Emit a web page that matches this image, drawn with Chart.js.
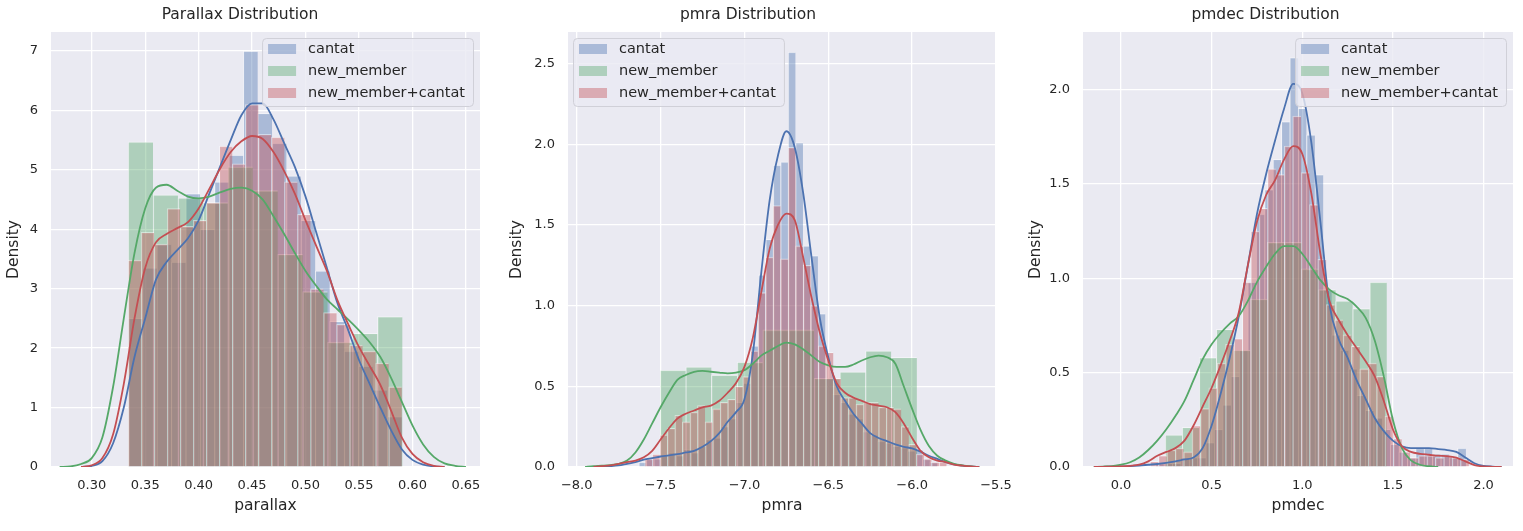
<!DOCTYPE html>
<html>
<head>
<meta charset="utf-8">
<title>Parallax / pmra / pmdec distributions</title>
<script src="https://cdn.jsdelivr.net/npm/chart.js"></script>
<style>
  body { margin: 0; background: #ffffff; }
  #wrap { position: relative; width: 1523px; height: 531px; }
  #wrap canvas { position: absolute; top: 0; }
</style>
</head>
<body>
<div id="wrap">
  <canvas id="c1" width="492" height="531" style="left:0px"></canvas>
  <canvas id="c2" width="512" height="531" style="left:500px"></canvas>
  <canvas id="c3" width="505" height="531" style="left:1018px"></canvas>
</div>
<script>
// ---- data ----
const seriesLabels = ['cantat', 'new_member', 'new_member+cantat'];

// parallax
const parallaxXTicks = [0.30, 0.35, 0.40, 0.45, 0.50, 0.55, 0.60, 0.65];
const parallaxXLabels = ['0.30', '0.35', '0.40', '0.45', '0.50', '0.55', '0.60', '0.65'];
const parallaxYTicks = [0, 1, 2, 3, 4, 5, 6, 7];
const parallaxYLabels = ['0', '1', '2', '3', '4', '5', '6', '7'];
const parallaxCantat = [2.5, 3.35, 3.75, 3.45, 4.6, 4.0, 4.8, 5.25, 7.0, 5.95, 5.45, 4.9, 4.15, 3.3, 2.45, 1.95, 1.7, 1.3, 0.85];
const parallaxNew = [5.47, 4.58, 4.53, 4.45, 5.05, 4.65, 3.58, 2.95, 2.1, 2.25, 2.53];
const parallaxBoth = [3.48, 3.95, 3.75, 4.35, 4.05, 4.15, 4.45, 5.4, 5.1, 6.1, 5.6, 5.55, 4.8, 4.25, 3.0, 2.6, 2.4, 2.05, 1.95, 1.75, 1.35];
const parallaxKdeX = [0.27, 0.28, 0.29, 0.30, 0.31, 0.32, 0.33, 0.34, 0.35, 0.36, 0.37, 0.38, 0.39, 0.40, 0.41, 0.42, 0.43, 0.44, 0.45, 0.46,
  0.47, 0.48, 0.49, 0.50, 0.51, 0.52, 0.53, 0.54, 0.55, 0.56, 0.57, 0.58, 0.59, 0.60, 0.61, 0.62, 0.63, 0.64, 0.65];
const parallaxKdeCantat = [null, null, 0, 0.02, 0.1, 0.4, 1.0, 1.85, 2.5, 3.15, 3.45, 3.65, 3.85, 4.15, 4.6, 5.05, 5.5, 5.92, 6.12, 6.12,
  5.85, 5.45, 5.05, 4.55, 3.95, 3.35, 2.75, 2.3, 1.8, 1.4, 1.0, 0.62, 0.3, 0.12, 0.04, 0.01, 0, null, null];
const parallaxKdeNew = [0, 0.01, 0.05, 0.15, 0.5, 1.35, 2.5, 3.6, 4.35, 4.7, 4.75, 4.65, 4.55, 4.52, 4.55, 4.62, 4.68, 4.7, 4.65, 4.5,
  4.22, 3.92, 3.6, 3.3, 3.05, 2.82, 2.65, 2.48, 2.3, 2.1, 1.85, 1.5, 1.1, 0.7, 0.38, 0.17, 0.06, 0.02, 0];
const parallaxKdeBoth = [null, null, 0, 0.03, 0.15, 0.55, 1.4, 2.5, 3.35, 3.78, 3.92, 4.02, 4.12, 4.35, 4.68, 5.02, 5.3, 5.48, 5.57, 5.52,
  5.3, 4.98, 4.6, 4.15, 3.72, 3.3, 2.8, 2.4, 2.02, 1.7, 1.38, 0.95, 0.5, 0.22, 0.08, 0.02, 0, null, null];

// pmra
const pmraXTicks = [-8.0, -7.5, -7.0, -6.5, -6.0, -5.5];
const pmraXLabels = ['\u22128.0', '\u22127.5', '\u22127.0', '\u22126.5', '\u22126.0', '\u22125.5'];
const pmraYTicks = [0, 0.5, 1.0, 1.5, 2.0, 2.5];
const pmraYLabels = ['0.0', '0.5', '1.0', '1.5', '2.0', '2.5'];
const pmraCantat = [0.03, 0.05, 0.05, 0.07, 0.09, 0.07, 0.11, 0.09, 0.13, 0.17, 0.18, 0.25, 0.30, 0.40, 0.52, 0.75, 1.19, 1.41, 1.87, 1.89,
  2.57, 2.01, 1.37, 1.31, 0.95, 0.55, 0.45, 0.40, 0.33, 0.30, 0.22, 0.20, 0.16, 0.15, 0.13, 0.12, 0.10, 0.11, 0.05, 0.03];
const pmraNew = [0.60, 0.62, 0.57, 0.65, 0.85, 0.85, 0.55, 0.59, 0.72, 0.68];
const pmraBoth = [0.05, 0.08, 0.20, 0.24, 0.32, 0.28, 0.34, 0.38, 0.28, 0.36, 0.40, 0.42, 0.50, 0.56, 0.72, 1.08, 1.30, 1.62, 1.29, 1.98,
  1.37, 1.25, 1.00, 0.75, 0.71, 0.55, 0.43, 0.43, 0.39, 0.40, 0.40, 0.37, 0.37, 0.36, 0.25, 0.14, 0.08, 0.05, 0.03, 0.03];
const pmraKdeX = [-7.95, -7.90, -7.85, -7.80, -7.75, -7.70, -7.65, -7.60, -7.55, -7.50, -7.45, -7.40, -7.35, -7.30, -7.25, -7.20,
  -7.15, -7.10, -7.05, -7.00, -6.95, -6.90, -6.85, -6.80, -6.75, -6.70, -6.65, -6.60, -6.55, -6.50, -6.45, -6.40,
  -6.35, -6.30, -6.25, -6.20, -6.15, -6.10, -6.05, -6.00, -5.95, -5.90, -5.85, -5.80, -5.75, -5.70, -5.65, -5.60];
const pmraKdeCantat = [null, 0, 0.002, 0.005, 0.01, 0.02, 0.03, 0.045, 0.055, 0.065, 0.072, 0.08, 0.09, 0.1, 0.125, 0.16,
  0.21, 0.28, 0.34, 0.42, 0.7, 1.2, 1.65, 1.93, 2.08, 1.98, 1.7, 1.3, 0.92, 0.68, 0.5, 0.41,
  0.33, 0.27, 0.21, 0.18, 0.16, 0.14, 0.125, 0.115, 0.095, 0.07, 0.05, 0.03, 0.017, 0.008, 0.003, 0];
const pmraKdeNew = [0, 0.005, 0.008, 0.012, 0.02, 0.04, 0.09, 0.17, 0.27, 0.37, 0.46, 0.54, 0.57, 0.59, 0.595, 0.59,
  0.585, 0.58, 0.585, 0.6, 0.64, 0.69, 0.72, 0.75, 0.77, 0.76, 0.73, 0.69, 0.65, 0.63, 0.62, 0.62,
  0.635, 0.66, 0.68, 0.69, 0.68, 0.64, 0.5, 0.36, 0.23, 0.13, 0.07, 0.04, 0.02, 0.01, 0.004, 0];
const pmraKdeBoth = [null, 0, 0.005, 0.01, 0.02, 0.03, 0.04, 0.06, 0.1, 0.17, 0.24, 0.3, 0.33, 0.35, 0.37, 0.38,
  0.41, 0.46, 0.52, 0.62, 0.8, 1.08, 1.35, 1.5, 1.57, 1.53, 1.3, 1.05, 0.83, 0.66, 0.52, 0.46,
  0.43, 0.41, 0.39, 0.38, 0.37, 0.34, 0.27, 0.18, 0.1, 0.06, 0.04, 0.03, 0.015, 0.008, 0.003, 0];

// pmdec
const pmdecXTicks = [0.0, 0.5, 1.0, 1.5, 2.0];
const pmdecXLabels = ['0.0', '0.5', '1.0', '1.5', '2.0'];
const pmdecYTicks = [0, 0.5, 1.0, 1.5, 2.0];
const pmdecYLabels = ['0.0', '0.5', '1.0', '1.5', '2.0'];
const pmdecCantat = [0.02, 0.02, 0.02, 0.05, 0.05, 0.05, 0.13, 0.2, 0.33, 0.48, 0.62, 0.98, 1.34, 1.47, 1.63, 1.83, 2.17, 1.9, 1.76, 1.55,
  0.94, 0.7, 0.62, 0.52, 0.38, 0.3, 0.26, 0.2, 0.12, 0.08, 0.05, 0.1, 0.1, 0.07, 0.07, 0.05, 0.1];
const pmdecNew = [0.17, 0.21, 0.58, 0.73, 0.62, 0.89, 1.19, 1.19, 1.05, 0.94, 0.88, 0.84, 0.98];
const pmdecBoth = [0.03, 0.06, 0.09, 0.1, 0.08, 0.22, 0.31, 0.42, 0.55, 0.65, 0.68, 0.98, 1.25, 1.37, 1.58, 1.55, 1.7, 1.86, 1.56, 1.39,
  1.1, 0.86, 0.78, 0.7, 0.64, 0.52, 0.55, 0.48, 0.27, 0.15, 0.08, 0.05, 0.06, 0.06, 0.05, 0.06, 0.05, 0.04];
const pmdecKdeX = [-0.15, -0.10, -0.05, 0.00, 0.05, 0.10, 0.15, 0.20, 0.25, 0.30, 0.35, 0.40, 0.45, 0.50, 0.55, 0.60,
  0.65, 0.70, 0.75, 0.80, 0.85, 0.90, 0.95, 1.00, 1.05, 1.10, 1.15, 1.20, 1.25, 1.30, 1.35, 1.40,
  1.45, 1.50, 1.55, 1.60, 1.65, 1.70, 1.75, 1.80, 1.85, 1.90, 1.95, 2.00, 2.05, 2.10];
const pmdecKdeCantat = [0, 0.001, 0.002, 0.003, 0.005, 0.008, 0.012, 0.016, 0.022, 0.03, 0.04, 0.05, 0.1, 0.22, 0.39, 0.58,
  0.8, 1.07, 1.34, 1.55, 1.73, 1.9, 2.03, 1.98, 1.72, 1.3, 0.86, 0.68, 0.58, 0.46, 0.36, 0.26,
  0.19, 0.14, 0.11, 0.1, 0.1, 0.1, 0.095, 0.09, 0.08, 0.05, 0.02, 0.006, 0.002, 0];
const pmdecKdeNew = [0, 0.002, 0.005, 0.012, 0.025, 0.05, 0.09, 0.14, 0.2, 0.27, 0.35, 0.46, 0.57, 0.65, 0.71, 0.76,
  0.8, 0.88, 0.98, 1.06, 1.13, 1.17, 1.17, 1.13, 1.06, 0.99, 0.94, 0.91, 0.89, 0.85, 0.79, 0.67,
  0.48, 0.25, 0.1, 0.035, 0.012, 0.004, 0, null, null, null, null, null, null, null];
const pmdecKdeBoth = [0, 0.001, 0.002, 0.003, 0.006, 0.012, 0.03, 0.06, 0.08, 0.1, 0.14, 0.22, 0.32, 0.42, 0.54, 0.67,
  0.82, 1.07, 1.3, 1.44, 1.52, 1.63, 1.7, 1.66, 1.45, 1.13, 0.88, 0.78, 0.7, 0.63, 0.56, 0.48,
  0.35, 0.2, 0.11, 0.08, 0.07, 0.065, 0.06, 0.058, 0.05, 0.03, 0.01, 0.003, 0.001, 0];

// ---- styling ----
Chart.defaults.font.family = '"DejaVu Sans", sans-serif';
Chart.defaults.color = '#262626';

const barFills = ['rgba(76,114,176,0.4)', 'rgba(85,168,104,0.4)', 'rgba(196,78,82,0.4)'];
const lineColors = ['#4C72B0', '#55A868', '#C44E52'];

const plotBg = {
  id: 'plotBg',
  beforeDraw(chart) {
    const { ctx, chartArea: a } = chart;
    ctx.save();
    ctx.fillStyle = '#EAEAF2';
    ctx.fillRect(a.left, a.top, a.right - a.left, a.bottom - a.top);
    ctx.restore();
  }
};

function insideLegend(align) {
  return {
    id: 'insideLegend',
    afterDraw(chart) {
      const { ctx, chartArea: a } = chart;
      const items = chart.data.datasets.filter(d => d.type === 'bar');
      ctx.save();
      ctx.font = '14.5px "DejaVu Sans"';
      const tw = Math.max(...items.map(d => ctx.measureText(d.label).width));
      const w = 46 + tw + 8, h = 68;
      const x0 = align === 'left' ? a.left + 5 : a.right - 7 - w;
      const y0 = a.top + 6;
      ctx.beginPath();
      ctx.roundRect(x0 + 0.5, y0 + 0.5, w, h, 4);
      ctx.fillStyle = 'rgba(234,234,242,0.8)';
      ctx.fill();
      ctx.strokeStyle = '#d0d0d8';
      ctx.lineWidth = 1;
      ctx.stroke();
      items.forEach((d, i) => {
        const cy = y0 + 11 + i * 22;
        ctx.fillStyle = d.backgroundColor;
        ctx.fillRect(x0 + 6, cy - 5, 28, 10);
        ctx.fillStyle = '#262626';
        ctx.textBaseline = 'middle';
        ctx.fillText(d.label, x0 + 46, cy);
      });
      ctx.restore();
    }
  };
}

function makePanel(id, p) {
  const datasets = [];
  p.hists.forEach((h, i) => {
    datasets.push({
      type: 'bar',
      label: seriesLabels[i],
      data: h.values.map((v, k) => ({ x: h.start + (k + 0.5) * h.width, y: v })),
      xAxisID: 'h' + i,
      backgroundColor: barFills[i],
      borderColor: 'rgba(255,255,255,0.45)',
      borderWidth: { left: 1, right: 0, top: 1, bottom: 0 },
      barPercentage: 1,
      categoryPercentage: 1,
      grouped: false,
      order: 10 - i
    });
  });
  p.kdes.forEach((k, i) => {
    datasets.push({
      type: 'line',
      label: '',
      data: p.kdeX.map((x, j) => ({ x: x, y: k[j] })),
      xAxisID: 'x',
      borderColor: lineColors[i],
      borderWidth: 1.8,
      pointRadius: 0,
      fill: false,
      tension: 0.4,
      cubicInterpolationMode: 'monotone',
      order: 5 - i
    });
  });

  const hiddenX = () => ({
    type: 'linear', axis: 'x', position: 'bottom', display: false,
    min: p.xMin, max: p.xMax, offset: false,
    grid: { offset: false },
    afterBuildTicks: ax => { ax.ticks = p.xTicks.map(v => ({ value: v })); }
  });

  new Chart(document.getElementById(id), {
    type: 'bar',
    data: { datasets: datasets },
    options: {
      responsive: false,
      animation: false,
      layout: { padding: { left: 0, right: p.padRight, top: 0, bottom: 0 } },
      scales: {
        x: {
          type: 'linear', position: 'bottom',
          min: p.xMin, max: p.xMax, offset: false,
          afterBuildTicks: ax => { ax.ticks = p.xTicks.map(v => ({ value: v })); },
          afterFit: ax => { ax.height = 64; ax.paddingLeft = 0; ax.paddingRight = 0; },
          grid: { color: '#ffffff', lineWidth: 1.3, drawTicks: false, offset: false },
          border: { display: false },
          ticks: { font: { size: 13 }, padding: 11, maxRotation: 0, autoSkip: false,
                   callback: (v, i) => p.xLabels[i] },
          title: { display: true, text: p.xTitle, font: { size: 15.5 }, padding: { top: 0, bottom: 16 } }
        },
        h0: hiddenX(), h1: hiddenX(), h2: hiddenX(),
        y: {
          min: 0, max: p.yMax,
          afterBuildTicks: ax => { ax.ticks = p.yTicks.map(v => ({ value: v })); },
          afterFit: ax => { ax.width = p.yAxisWidth; },
          grid: { color: '#ffffff', lineWidth: 1.3, drawTicks: false },
          border: { display: false },
          ticks: { font: { size: 13 }, padding: 13, callback: (v, i) => p.yLabels[i] },
          title: { display: true, text: 'Density', font: { size: 15.5 }, padding: { top: p.yTitlePad, bottom: 0 } }
        }
      },
      plugins: {
        legend: { display: false },
        tooltip: { enabled: false },
        title: { display: true, text: p.title, font: { size: 15.5, weight: 'normal' },
                 padding: { top: 6, bottom: 7.4 } }
      }
    },
    plugins: [plotBg, insideLegend(p.legendAlign)]
  });
}

makePanel('c1', {
  title: 'Parallax Distribution', xTitle: 'parallax',
  xMin: 0.2619, xMax: 0.6632, yMax: 7.32,
  xTicks: parallaxXTicks, xLabels: parallaxXLabels, yTicks: parallaxYTicks, yLabels: parallaxYLabels,
  yAxisWidth: 51, padRight: 12, yTitlePad: 4.7, legendAlign: 'right',
  hists: [
    { start: 0.334, width: 0.01347, values: parallaxCantat },
    { start: 0.334, width: 0.02333, values: parallaxNew },
    { start: 0.334, width: 0.01219, values: parallaxBoth }
  ],
  kdeX: parallaxKdeX, kdes: [parallaxKdeCantat, parallaxKdeNew, parallaxKdeBoth]
});

makePanel('c2', {
  title: 'pmra Distribution', xTitle: 'pmra',
  xMin: -8.052, xMax: -5.5, yMax: 2.695,
  xTicks: pmraXTicks, xLabels: pmraXLabels, yTicks: pmraYTicks, yLabels: pmraYLabels,
  yAxisWidth: 68, padRight: 16, yTitlePad: 7.7, legendAlign: 'left',
  hists: [
    { start: -7.63, width: 0.0445, values: pmraCantat },
    { start: -7.503, width: 0.1531, values: pmraNew },
    { start: -7.595, width: 0.045, values: pmraBoth }
  ],
  kdeX: pmraKdeX, kdes: [pmraKdeCantat, pmraKdeNew, pmraKdeBoth]
});

makePanel('c3', {
  title: 'pmdec Distribution', xTitle: 'pmdec',
  xMin: -0.21, xMax: 2.163, yMax: 2.305,
  xTicks: pmdecXTicks, xLabels: pmdecXLabels, yTicks: pmdecYTicks, yLabels: pmdecYLabels,
  yAxisWidth: 65, padRight: 10, yTitlePad: 8.7, legendAlign: 'right',
  hists: [
    { start: 0.19, width: 0.0463, values: pmdecCantat },
    { start: 0.243, width: 0.0941, values: pmdecNew },
    { start: 0.16, width: 0.0463, values: pmdecBoth }
  ],
  kdeX: pmdecKdeX, kdes: [pmdecKdeCantat, pmdecKdeNew, pmdecKdeBoth]
});
</script>
</body>
</html>
